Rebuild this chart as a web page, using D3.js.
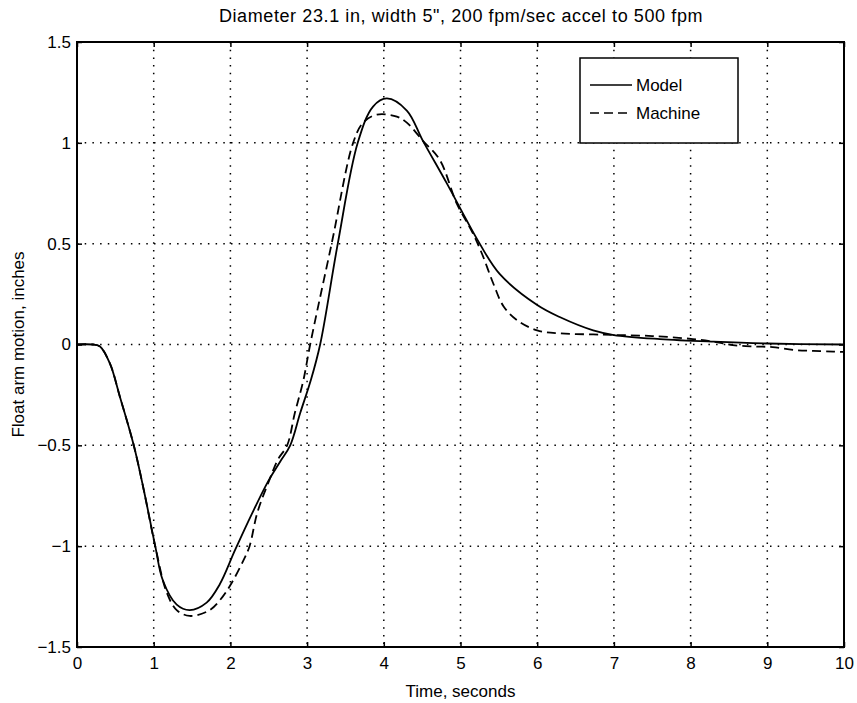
<!DOCTYPE html>
<html>
<head>
<meta charset="utf-8">
<script src="https://cdn.jsdelivr.net/npm/d3@7"></script>
<style>
  body { margin: 0; background: #fff; }
  text { font-family: "Liberation Sans", Arial, sans-serif; fill: #000; }
</style>
</head>
<body>
<div id="chart"></div>
<script>
// values
const modelTime = [0, 0.2, 0.3, 0.43, 0.56, 0.74, 0.87, 1.02, 1.12, 1.30, 1.47, 1.69, 1.86, 2.06, 2.28, 2.49, 2.65, 2.78, 2.91, 3.05, 3.17, 3.4, 3.66, 3.86, 4.04, 4.3, 4.51, 4.82, 5.06, 5.22, 5.51, 6.0, 6.3, 6.73, 7.0, 7.6, 8.3, 9.0, 10]
const modelValue = [0, 0, -0.01, -0.095, -0.26, -0.5, -0.72, -1.0, -1.17, -1.29, -1.317, -1.28, -1.19, -1.02, -0.84, -0.68, -0.58, -0.5, -0.34, -0.175, 0, 0.5, 1.0, 1.18, 1.22, 1.16, 1.01, 0.80, 0.63, 0.52, 0.35, 0.196, 0.135, 0.07, 0.047, 0.027, 0.014, 0.005, 0]

const machineTime = [0, 0.2, 0.3, 0.43, 0.56, 0.74, 0.87, 1.02, 1.17, 1.30, 1.47, 1.73, 1.9, 2.02, 2.17, 2.25, 2.35, 2.51, 2.62, 2.74, 2.84, 2.95, 3.04, 3.32, 3.6, 3.73, 3.91, 4.17, 4.3, 4.51, 4.73, 4.95, 5.15, 5.28, 5.43, 5.56, 5.74, 6.0, 6.3, 6.73, 7.0, 7.5, 8.03, 8.3, 8.55, 8.84, 9.07, 9.34, 9.6, 9.86, 10]
const machineValue = [0, 0, -0.01, -0.095, -0.26, -0.5, -0.72, -1.0, -1.23, -1.317, -1.346, -1.317, -1.25, -1.18, -1.07, -1.0, -0.835, -0.67, -0.57, -0.5, -0.34, -0.18, 0, 0.5, 1.0, 1.10, 1.14, 1.13, 1.10, 1.01, 0.915, 0.70, 0.56, 0.45, 0.30, 0.19, 0.12, 0.07, 0.055, 0.05, 0.047, 0.042, 0.027, 0.014, -0.003, -0.01, -0.013, -0.027, -0.032, -0.035, -0.037]

const xTicks = [0, 1, 2, 3, 4, 5, 6, 7, 8, 9, 10]
const yTicks = [-1.5, -1, -0.5, 0, 0.5, 1, 1.5]
const seriesNames = ["Model", "Machine"]

const W = 857, H = 703
const margin = {top: 42, right: 13, bottom: 56, left: 77}
const width = W - margin.left - margin.right
const height = H - margin.top - margin.bottom

const svg = d3.select("#chart").append("svg")
    .attr("width", W)
    .attr("height", H)
const g = svg.append("g")
    .attr("transform", "translate(" + margin.left + "," + margin.top + ")")

const x = d3.scaleLinear().domain([0, 10]).range([0, width])
const y = d3.scaleLinear().domain([-1.5, 1.5]).range([height, 0])

// dotted grid
g.selectAll(".vgrid")
  .data(xTicks.slice(1, -1))
  .enter().append("line")
    .attr("x1", d => x(d)).attr("x2", d => x(d))
    .attr("y1", 0).attr("y2", height)
    .attr("stroke", "#000").attr("stroke-width", 1.5)
    .attr("stroke-dasharray", "1.5,6.2")
g.selectAll(".hgrid")
  .data(yTicks.slice(1, -1))
  .enter().append("line")
    .attr("x1", 0).attr("x2", width)
    .attr("y1", d => y(d)).attr("y2", d => y(d))
    .attr("stroke", "#000").attr("stroke-width", 1.5)
    .attr("stroke-dasharray", "1.5,6.2")

const fmt = d => (d < 0 ? "\u2212" : "") + Math.abs(d)

// axes with inward ticks
g.append("g")
  .attr("transform", "translate(0," + height + ")")
  .call(d3.axisBottom(x).tickValues(xTicks).tickSizeInner(-5).tickSizeOuter(0).tickPadding(10))
  .call(a => a.select(".domain").remove())
  .call(a => a.selectAll("text").attr("font-size", 17).style("font-family", "Liberation Sans, Arial, sans-serif"))
g.append("g")
  .call(d3.axisLeft(y).tickValues(yTicks).tickFormat(fmt).tickSizeInner(-5).tickSizeOuter(0).tickPadding(6))
  .call(a => a.select(".domain").remove())
  .call(a => a.selectAll("text").attr("font-size", 17).style("font-family", "Liberation Sans, Arial, sans-serif"))
g.append("g")
  .call(d3.axisTop(x).tickValues(xTicks).tickSizeInner(-5).tickSizeOuter(0).tickFormat(""))
  .call(a => a.select(".domain").remove())
g.append("g")
  .attr("transform", "translate(" + width + ",0)")
  .call(d3.axisRight(y).tickValues(yTicks).tickSizeInner(-5).tickSizeOuter(0).tickFormat(""))
  .call(a => a.select(".domain").remove())
g.selectAll(".tick line").attr("stroke", "#000").attr("stroke-width", 1.5)

// frame
g.append("rect")
  .attr("width", width).attr("height", height)
  .attr("fill", "none").attr("stroke", "#000").attr("stroke-width", 2)

// curves
const line = d3.line()
  .x(d => x(d[0]))
  .y(d => y(d[1]))
  .curve(d3.curveCatmullRom.alpha(0.5))

g.append("path")
  .datum(d3.zip(modelTime, modelValue))
  .attr("d", line)
  .attr("fill", "none").attr("stroke", "#000").attr("stroke-width", 1.8)
g.append("path")
  .datum(d3.zip(machineTime, machineValue))
  .attr("d", line)
  .attr("fill", "none").attr("stroke", "#000").attr("stroke-width", 1.8)
  .attr("stroke-dasharray", "9,5")

// legend
const lg = g.append("g").attr("transform", "translate(" + (580 - margin.left) + "," + (58 - margin.top) + ")")
lg.append("rect")
  .attr("width", 158).attr("height", 85)
  .attr("fill", "#fff").attr("stroke", "#000").attr("stroke-width", 1.5)
seriesNames.forEach(function(name, i) {
  const ly = 27 + i * 28
  lg.append("line")
    .attr("x1", 10).attr("x2", 52)
    .attr("y1", ly).attr("y2", ly)
    .attr("stroke", "#000").attr("stroke-width", 1.6)
    .attr("stroke-dasharray", i === 1 ? "9,5" : null)
  lg.append("text")
    .attr("x", 56).attr("y", ly + 6)
    .attr("font-size", 17)
    .text(name)
})

// labels
svg.append("text")
  .attr("x", 461).attr("y", 22)
  .attr("text-anchor", "middle").attr("font-size", 18)
  .attr("letter-spacing", 0.6)
  .text("Diameter 23.1 in, width 5\", 200 fpm/sec accel to 500 fpm")
svg.append("text")
  .attr("x", margin.left + width / 2).attr("y", 697)
  .attr("text-anchor", "middle").attr("font-size", 17)
  .text("Time, seconds")
svg.append("text")
  .attr("transform", "translate(24," + (margin.top + height / 2) + ") rotate(-90)")
  .attr("text-anchor", "middle").attr("font-size", 17)
  .text("Float arm motion, inches")
</script>
</body>
</html>
